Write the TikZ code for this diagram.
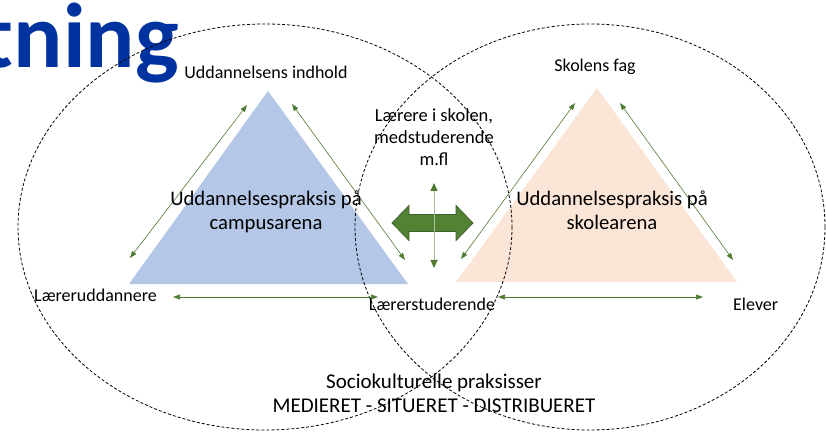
\documentclass[tikz,border=0pt]{standalone}
\usepackage{fontspec}
\setmainfont{Carlito}
\usetikzlibrary{arrows.meta}
\definecolor{triblue}{HTML}{B4C7E7}
\definecolor{tripeach}{HTML}{FBE5D6}
\definecolor{arrgreen}{HTML}{4E7A32}
\definecolor{lightgreen}{HTML}{A9BC9C}
\definecolor{biggreen}{HTML}{548235}
\definecolor{bigborder}{HTML}{3D6128}
\definecolor{titleblue}{HTML}{0033A0}
\tikzset{
  rel/.style={draw=arrgreen, line width=0.6pt,
    {Triangle[length=7pt,width=5pt]}-{Triangle[length=7pt,width=5pt]}},
  vrel/.style={draw=lightgreen, line width=1pt,
    {Triangle[length=8pt,width=7pt,color=arrgreen]}-{Triangle[length=8pt,width=7pt,color=arrgreen]}},
  ring/.style={draw=black, line width=0.8pt, dash pattern=on 3pt off 2pt},
  lbl/.style={font=\fontsize{18}{22}\selectfont, inner sep=0pt, anchor=base},
  mid/.style={font=\fontsize{18.5}{22}\selectfont, inner sep=0pt, align=center, anchor=base},
  arena/.style={font=\fontsize{20.7}{24.5}\selectfont, inner sep=0pt, align=center, anchor=base},
  bottom/.style={font=\fontsize{21}{20}\selectfont, inner sep=0pt, anchor=base},
}
\begin{document}
\begin{tikzpicture}[x=1pt,y=-1pt]
\useasboundingbox (0,0) rectangle (826,435);
\clip (0,0) rectangle (826,435);
% title fragment
\node[anchor=base east, font=\fontsize{92}{92}\bfseries\selectfont, text=titleblue, inner sep=0pt] (title) at (179,68) {tning};
% triangles
\fill[triblue] (268,91) -- (408,284) -- (129,284) -- cycle;
\fill[tripeach] (597,88) -- (737,282) -- (456,282) -- cycle;
% ellipses
\draw[ring] (265,227) ellipse [x radius=247, y radius=203];
\draw[ring] (590,227) ellipse [x radius=235, y radius=203];
% coordinates
\coordinate (a1) at (130,258); \coordinate (a2) at (247,105);
\coordinate (b1) at (292,104); \coordinate (b2) at (405,260);
\coordinate (c1) at (173,297); \coordinate (c2) at (378,297);
\coordinate (d1) at (461,259); \coordinate (d2) at (575,103);
\coordinate (e1) at (620,103); \coordinate (e2) at (733,260);
\coordinate (f1) at (498,297); \coordinate (f2) at (703,297);
\coordinate (v1) at (434,183); \coordinate (v2) at (434,268);
% relation arrows
\draw[rel] (a1) -- (a2);
\draw[rel] (b1) -- (b2);
\draw[rel] (c1) -- (c2);
\draw[rel] (d1) -- (d2);
\draw[rel] (e1) -- (e2);
\draw[rel] (f1) -- (f2);
% big double arrow
\filldraw[fill=biggreen, draw=bigborder, line width=0.8pt]
  (392,223) -- (409,205.5) -- (409,214.5) -- (456,214.5) -- (456,205.5)
  -- (473,223) -- (456,240.5) -- (456,231.5) -- (409,231.5) -- (409,240.5) -- cycle;
\draw[vrel] (v1) -- (v2);
% labels
\node[lbl] (indhold) at (266,79) {Uddannelsens indhold};
\node[lbl] (fag) at (595,72) {Skolens fag};
\node[mid] (laerere) at (434,166) {Lærere i skolen,\\medstuderende\\m.fl};
\node[arena] (campus) at (266,230) {Uddannelsespraksis på\\campusarena};
\node[arena] (skole) at (612,230) {Uddannelsespraksis på\\skolearena};
\node[lbl, anchor=base west] (ldann) at (34,301) {Lærerud\-dannere};
\node[lbl] (lstud) at (432,310) {Lærerstuderende};
\node[lbl, anchor=base west] (elever) at (733,310) {Elever};
\node[bottom] (socio) at (434,388) {Sociokulturelle praksisser};
\node[bottom] (medie) at (434,412) {MEDIERET - SITUERET - DISTRIBUERET};
\end{tikzpicture}
\end{document}
